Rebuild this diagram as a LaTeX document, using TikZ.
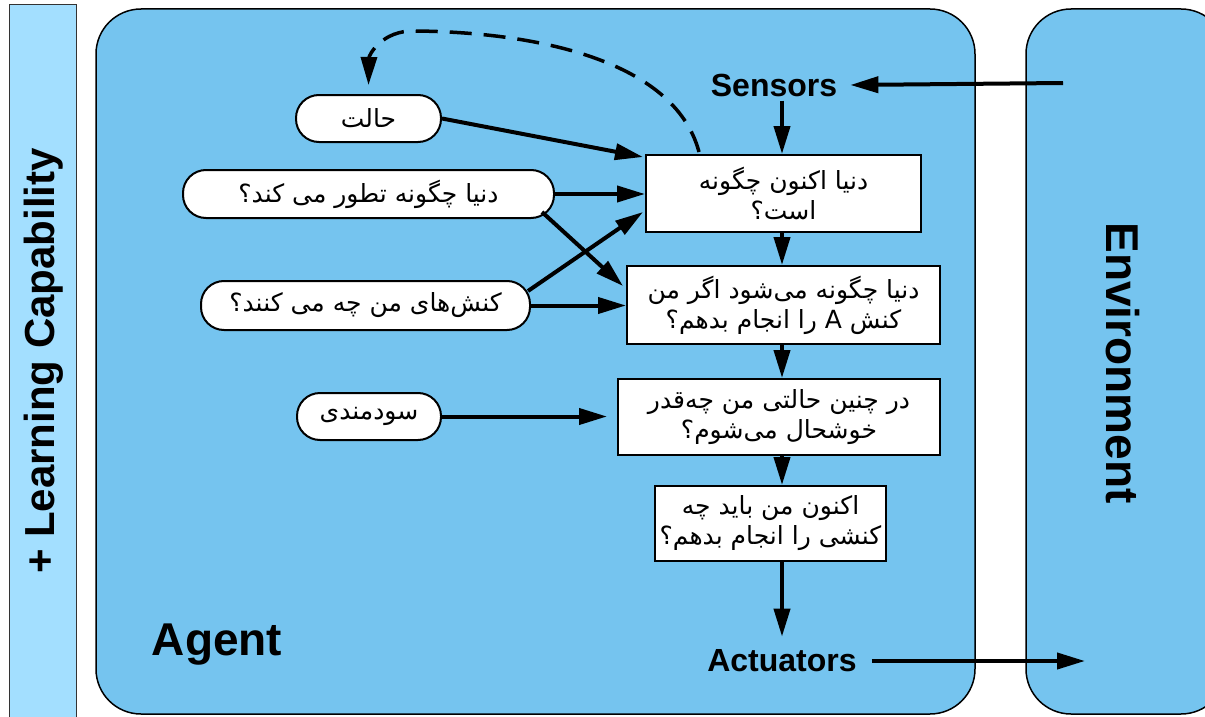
\documentclass[tikz,border=0pt]{standalone}
\usepackage{fontspec}
\setmainfont{Liberation Sans}
\newfontfamily\arabicfont[Script=Arabic]{DejaVu Sans}
\TeXXeTstate=1
\usetikzlibrary{arrows.meta,calc}
\definecolor{agentblue}{RGB}{117,196,239}
\definecolor{barblue}{RGB}{163,223,255}
\begin{document}
\begin{tikzpicture}[x=1pt,y=-1pt,
  pill/.style={draw=black, line width=2pt, fill=white, rounded corners=23pt, minimum height=47pt, inner sep=0pt, font=\fontsize{25}{30}\selectfont\arabicfont},
  qbox/.style={draw=black, line width=2pt, fill=white, inner sep=0pt, align=center, font=\fontsize{25}{30}\selectfont\arabicfont},
  arr/.style={line width=4pt, -{Triangle[length=28pt,width=16pt]}},
  darr/.style={line width=3.5pt, dash pattern=on 22pt off 12pt, -{Triangle[length=28pt,width=16pt]}},
  lbl/.style={font=\fontsize{32}{38}\selectfont\bfseries, inner sep=4pt},
  panel/.style={draw=black, line width=1.5pt, fill=agentblue, rounded corners=45pt, inner sep=0pt}
]
\useasboundingbox (0,0) rectangle (1205,717);
% left bar
\node[draw=black!80, line width=1pt, fill=barblue, minimum width=67pt, minimum height=730pt, inner sep=0pt] (bar) at (42.5,370) {};
\node[rotate=90, font=\fontsize{42}{48}\selectfont\bfseries] (learn) at (44,361) {+ Learning Capability};
% agent and environment
\node[panel, minimum width=879pt, minimum height=705pt] (agent) at (535.5,361.5) {};
\begin{scope}
\clip (0,0) rectangle (1205,717);
\node[panel, minimum width=200pt, minimum height=705pt] (env) at (1126,361.5) {};
\end{scope}
\node[rotate=-90, font=\fontsize{46}{52}\selectfont\bfseries] (envlbl) at (1123,363) {Environment};
\node[font=\fontsize{46}{52}\selectfont\bfseries] (agentlbl) at (217,645) {Agent};
% labels
\node[lbl] (sensors) at (774,85) {Sensors};
\node[lbl] (actuators) at (782,661) {Actuators};
\coordinate (axis) at (782,0);
\coordinate (envin) at (1063,83);
\coordinate (envout) at (1085,661);
% pills
\node[pill, minimum width=145pt] (state) at (368.5,118.5) {\beginR حالت\endR};
\node[pill, minimum width=371pt, minimum height=48pt] (evolve) at (368.5,194) {\beginR دنیا چگونه تطور می کند؟\endR};
\node[pill, minimum width=329pt, minimum height=49pt] (actions) at (365.5,305.5) {\beginR کنش‌های من چه می کنند؟\endR};
\node[pill, minimum width=144pt] (utility) at (369,416.5) {\beginR سودمندی\endR};
% boxes
\node[qbox, minimum width=275pt, minimum height=77pt] (box1) at (783.5,193.5) {\beginR دنیا اکنون چگونه\endR\\\beginR است؟\endR};
\node[qbox, minimum width=313pt, minimum height=78pt] (box2) at (783.5,305) {\beginR دنیا چگونه می‌شود اگر من\endR\\\beginR کنش A را انجام بدهم؟\endR};
\node[qbox, minimum width=322pt, minimum height=76pt] (box3) at (779,417) {\beginR در چنین حالتی من چه‌قدر\endR\\\beginR خوشحال می‌شوم؟\endR};
\node[qbox, minimum width=231pt, minimum height=75pt] (box4) at (770.5,523.5) {\beginR اکنون من باید چه\endR\\\beginR کنشی را انجام بدهم؟\endR};
% main chain
\draw[arr] (envin) -- ($(sensors.east)+(9,0)$);
\draw[arr] (sensors.south -| axis) -- (box1.north -| axis);
\draw[arr] (box1.south -| axis) -- (box2.north -| axis);
\draw[arr] (box2.south -| axis) -- (box3.north -| axis);
\draw[arr] (box3.south -| axis) -- (box4.north -| axis);
\draw[arr] (box4.south -| axis) -- ($(actuators.north -| axis)+(0,-9)$);
\draw[arr] ($(actuators.east)+(11,0)$) -- (envout);
% inputs
\draw[arr] (state.east) -- ($(box1.north west)+(-2,3)$);
\draw[arr] (evolve.east) -- (evolve.east -| box1.west);
\draw[arr] ($(evolve.south east)+(-13,-7)$) -- ($(box2.north west)+(-3,21)$);
\draw[arr] ($(actions.north east)+(-3,11)$) -- ($(box1.south west)+(-2,-21)$);
\draw[arr] (actions.east) -- (actions.east -| box2.west);
\draw[arr] (utility.east) -- ($(utility.east -| box3.west)+(-10,0)$);
% dashed feedback
\draw[darr] ($(box1.north west)+(54,-2)$) .. controls (674,58) and (530,32) .. (415,31) .. controls (382,30) and (369,55) .. ($(state.north)+(0,-9)$);
\end{tikzpicture}
\end{document}
